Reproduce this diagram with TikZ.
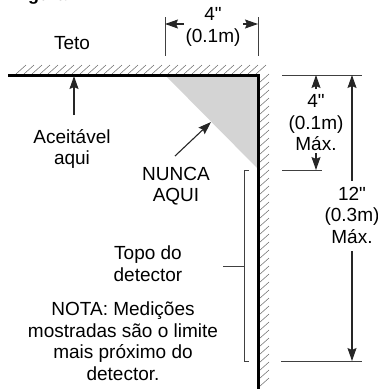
\documentclass[tikz,border=0pt]{standalone}
\usepackage{fontspec}
\setmainfont{Liberation Sans}
\usetikzlibrary{arrows.meta,positioning}
\newcommand{\inchmark}{\XeTeXglyph\XeTeXcharglyph"22\relax}

\begin{document}
\begin{tikzpicture}[x=1pt,y=-1pt,>={Stealth[length=13pt,width=9pt,inset=2pt]},
    wall/.style={black,line width=3pt},
    hatchline/.style={black!60,line width=0.5pt},
    dimline/.style={black!75,line width=1pt},
    dimarrow/.style={black!85,line width=1.1pt,->},
    lbl/.style={align=center,inner sep=0pt,font=\fontsize{19}{21.5}\selectfont}]
    \useasboundingbox (0,0) rectangle (378,389);
    % room corner
    \coordinate (ceilL) at (8,75);
    \coordinate (corner) at (258,75);
    \coordinate (wallB) at (258,389);
    \fill [black!17] (165,75) -- (corner) -- (258,169) -- cycle;
    \foreach \x in {16,24,...,256} \draw [hatchline] (\x,74) -- ++(10,-9);
    \foreach \y in {83,91,...,389} \draw [hatchline] (259,\y) -- ++(10,-9);
    \draw [wall] (ceilL) -- (corner) -- (wallB);
    % labels
    \node [lbl,font=\fontsize{18}{21}\selectfont\bfseries,anchor=base west] (fig) at (12,0.5) {Figura};
    \node [lbl] (teto) at (72,43) {Teto};
    \node [lbl] (aceit) at (72,149) {Aceitável\\aqui};
    \node [lbl] (nunca) at (176,186) {NUNCA\\AQUI};
    \node [lbl] (topo) at (148,263.5) {Topo do\\detector};
    \node [lbl] (nota) at (123,341) {NOTA: Medições\\mostradas são o limite\\mais próximo do\\detector.};
    \node [lbl] (dimW) at (213,27) {4\inchmark\\(0.1m)};
    \node [lbl] (dimH) at (316,123) {4\inchmark\\(0.1m)\\Máx.};
    \node [lbl] (dimT) at (352,215) {12\inchmark\\(0.3m)\\Máx.};
    % arrows to the corner
    \coordinate (aceitTail) at (74,115);
    \coordinate (aceitTip) at (74,76);
    \coordinate (nuncaTail) at (175,156);
    \coordinate (nuncaTip) at (211,122);
    \draw [dimarrow] (aceitTail) -- (aceitTip);
    \draw [dimarrow] (nuncaTail) -- (nuncaTip);
    % width of the zone
    \coordinate (wA) at (165,17);
    \coordinate (wB) at (165,56);
    \coordinate (wC) at (258,17);
    \coordinate (wD) at (258,56);
    \draw [dimline] (wA) -- (wB);
    \draw [dimline] (wC) -- (wD);
    \draw [dimarrow] (184,24) -- (165,24);
    \draw [dimarrow] (243,24) -- (258,24);
    % heights
    \coordinate (hA) at (282,75);
    \coordinate (hB) at (362,75);
    \coordinate (hC) at (282,170);
    \coordinate (hD) at (322,170);
    \coordinate (hE) at (281,361);
    \coordinate (hF) at (362,361);
    \draw [dimline] (hA) -- (hB);
    \draw [dimline] (hC) -- (hD);
    \draw [dimline] (hE) -- (hF);
    \draw [dimarrow] (316,89) -- (316,75);
    \draw [dimarrow] (316,153) -- (316,170);
    \draw [dimarrow] (352,181) -- (352,75);
    \draw [dimarrow] (352,251) -- (352,361);
    % bracket for the detector
    \coordinate (brTop) at (249,170);
    \coordinate (brBot) at (249,361);
    \coordinate (brTick) at (223,266);
    \draw [dimline] (brTop) -- (244,170) -- (244,361) -- (brBot);
    \draw [dimline] (brTick) -- (244,266);
\end{tikzpicture}
\end{document}
